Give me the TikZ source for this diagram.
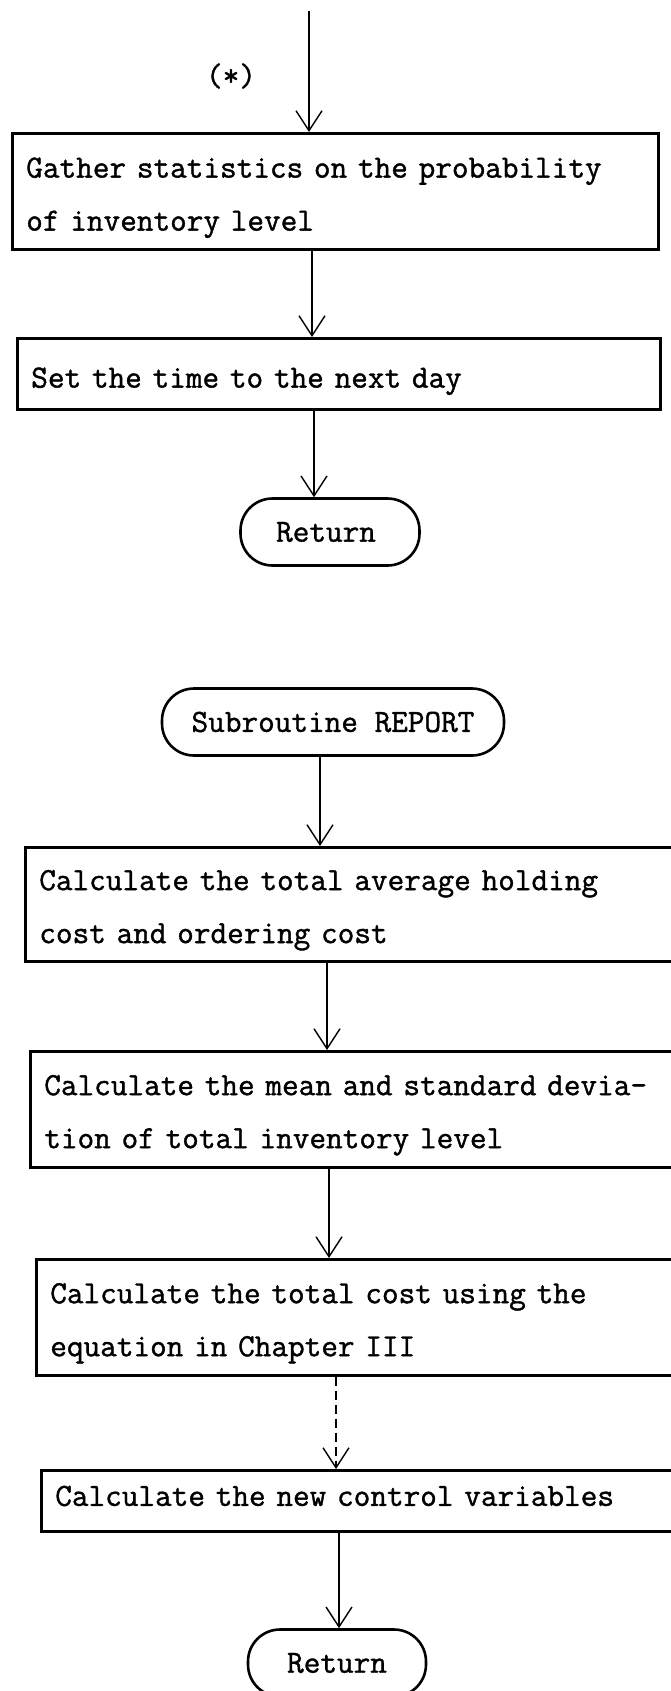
\documentclass[tikz,border=0pt]{standalone}
\usepackage{fontspec}
\newfontfamily\tw{Latin Modern Mono}[FakeBold=1.2]
\usetikzlibrary{arrows.meta}
\begin{document}
\begin{tikzpicture}[x=1pt,y=-1pt,
  txt/.style={font=\tw\fontsize{32.3}{53}\selectfont},
  proc/.style={txt, draw, line width=2.6pt, anchor=north west, inner xsep=14pt, inner ysep=0pt, align=left},
  term/.style={txt, draw, line width=2.6pt, rounded corners=32pt, inner sep=0pt},
  arr/.style={line width=1.4pt, -{Straight Barb[length=20pt,width=26pt,line width=1.4pt]}},
  dsh/.style={dash pattern=on 9pt off 5pt}
]
\useasboundingbox (0,0) rectangle (670,1691);
\fill[white] (0,0) rectangle (670,1691);

\node[txt] (star) at (231,76) {(*)};
\node[proc, text width=618pt, minimum height=116pt] (b1) at (11,132)
  {\rule{0pt}{33pt}Gather statistics on the probability\\of inventory level};
\node[proc, text width=615pt, minimum height=71pt] (b2) at (16,337)
  {\rule{0pt}{35pt}Set the time to the next day};
\node[term, minimum width=179pt, minimum height=67pt] (r1) at (330,532) {\hspace*{-8pt}Return};
\node[term, minimum width=342pt, minimum height=67pt] (sr) at (333,722) {Subroutine REPORT};
\node[proc, text width=620pt, minimum height=114pt] (b3) at (24,846)
  {\rule{0pt}{32pt}Calculate the total average holding\\cost and ordering cost};
\node[proc, text width=615pt, minimum height=116pt] (b4) at (29,1050)
  {\rule{0pt}{32pt}Calculate the mean and standard devia-\\tion of total inventory level};
\node[proc, text width=609pt, minimum height=116pt] (b5) at (35,1258)
  {\rule{0pt}{32pt}Calculate the total cost using the\\equation in Chapter III};
\node[proc, text width=604pt, minimum height=61pt] (b6) at (40,1469)
  {\rule[-10pt]{0pt}{10pt}Calculate the new control variables};
\node[term, minimum width=178pt, minimum height=67pt] (r2) at (337,1663) {Return};

\coordinate (x0) at (309,11);
\coordinate (x1) at (312,0);
\coordinate (x2) at (314,0);
\coordinate (x3) at (320,0);
\coordinate (x4) at (327,0);
\coordinate (x5) at (329,0);
\coordinate (x6) at (336,0);
\coordinate (x7) at (339,0);

\draw[arr] (x0) -- (b1.north -| x0);
\draw[arr] (b1.south -| x1) -- (b2.north -| x1);
\draw[arr] (b2.south -| x2) -- (r1.north -| x2);
\draw[arr] (sr.south -| x3) -- (b3.north -| x3);
\draw[arr] (b3.south -| x4) -- (b4.north -| x4);
\draw[arr] (b4.south -| x5) -- (b5.north -| x5);
\draw[arr, dsh] (b5.south -| x6) -- (b6.north -| x6);
\draw[arr] (b6.south -| x7) -- (r2.north -| x7);
\end{tikzpicture}
\end{document}
